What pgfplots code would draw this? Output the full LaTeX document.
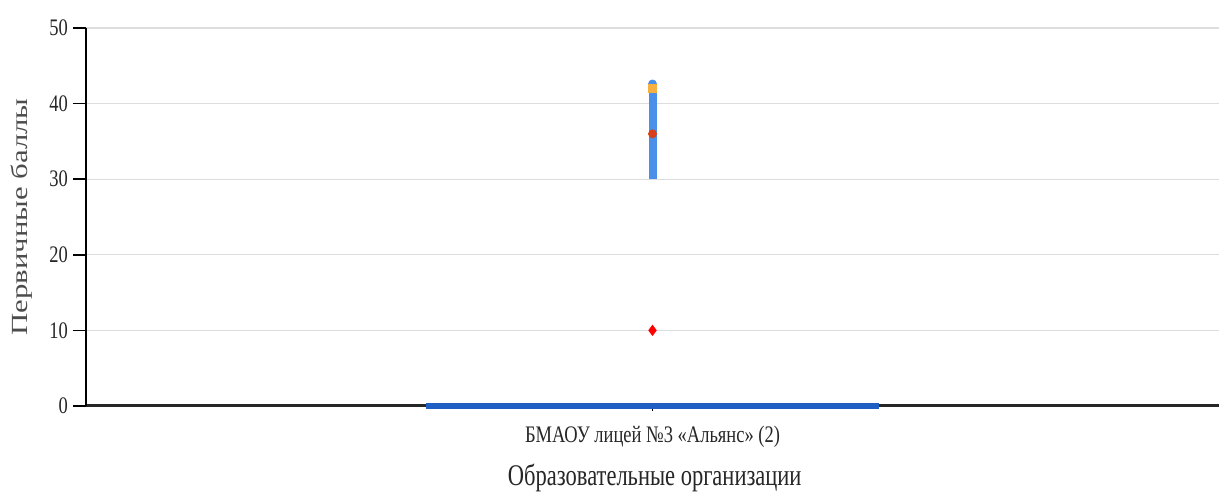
\documentclass[border=0pt]{standalone}
\usepackage{fontspec}
\setmainfont{Liberation Serif}
\newfontfamily\tickfont{Liberation Serif}[FakeStretch=0.78]
\newfontfamily\xlabfont{Liberation Serif}[FakeStretch=0.75]
\newfontfamily\ylabfont{Liberation Serif}[FakeStretch=1.333]
\usepackage{pgfplots}
\pgfplotsset{compat=1.18}
\definecolor{barblue}{HTML}{1F5FC4}
\definecolor{linblue}{HTML}{4A8FE8}
\definecolor{mkorange}{HTML}{F5B041}
\definecolor{mkred}{HTML}{D8401A}
\definecolor{gridgray}{HTML}{DDDDDD}
\begin{document}
\begin{tikzpicture}
\begin{axis}[
  scale only axis, width=566.5pt, height=189pt,
  xmin=-1, xmax=1, ymin=0, ymax=50,
  clip=false,
  axis x line=bottom, axis y line=left,
  x axis line style={-, line width=1.5pt, black!85},
  y axis line style={-, line width=0.75pt, black},
  ytick={0,10,20,30,40,50},
  xtick={0}, xticklabels={БМАОУ лицей №3 «Альянс» (2)},
  tick align=outside, major tick length=6.5pt,
  tick style={black, line width=0.75pt},
  xtick style={/pgfplots/major tick length=2.5pt},
  ymajorgrids, grid style={gridgray, line width=0.6pt},
  /pgf/number format/assume math mode=true,
  yticklabel style={font=\tickfont\fontsize{11.85}{13}\selectfont, text=black!85, xshift=1pt},
  xticklabel style={font=\tickfont\fontsize{11.85}{13}\selectfont, text=black!85, yshift=0pt},
  ylabel={Первичные баллы},
  xlabel={Образовательные организации},
  every axis y label/.style={at={(axis description cs:-0.0565,0.5)}, rotate=90, anchor=center, font=\ylabfont\fontsize{11.55}{13}\selectfont, text=black!70},
  every axis x label/.style={at={(axis description cs:0.502,-0.19)}, anchor=center, font=\xlabfont\fontsize{15}{17}\selectfont, text=black!85},
]
\addplot[barblue, line width=3pt] coordinates {(-0.4,0) (0.4,0)};
\addplot[linblue, line width=4pt, line cap=butt] coordinates {(0,30) (0,42.6)};
\addplot[only marks, mark=*, mark size=2pt, linblue] coordinates {(0,42.6)};
\addplot[only marks, mark=square*, mark size=2pt, mkorange] coordinates {(0,42)};
\addplot[only marks, mark=*, mark size=2pt, mkred] coordinates {(0,36)};
\addplot[only marks, mark=diamond*, mark size=2.5pt, red] coordinates {(0,10)};
\end{axis}
\pgfresetboundingbox
\path (current axis.south west) ++(-43pt,-45.5pt) rectangle ++(609.5pt,248.5pt);
\end{tikzpicture}
\end{document}
